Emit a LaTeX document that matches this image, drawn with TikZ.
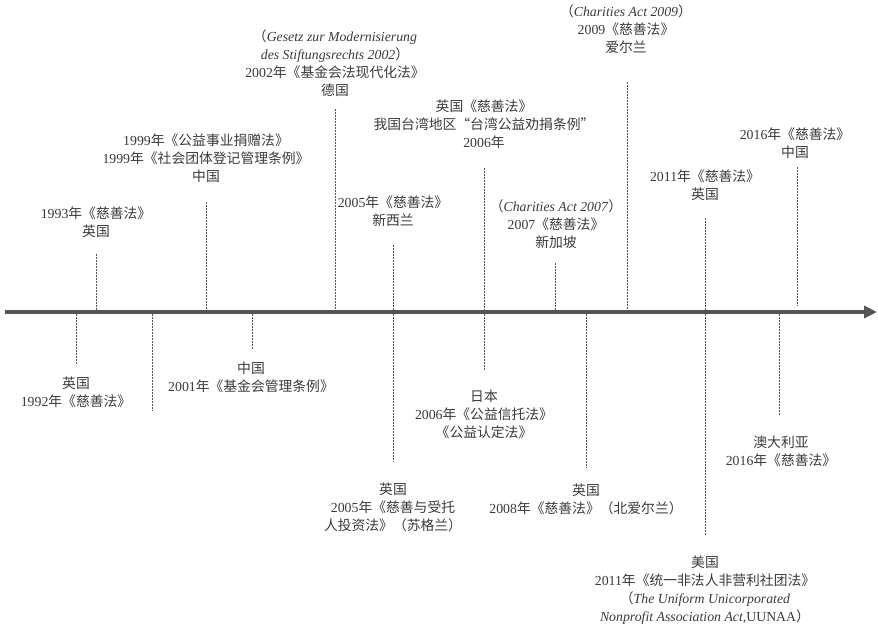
\documentclass[tikz,border=0pt]{standalone}
\usepackage{fontspec}
\setmainfont{Liberation Serif}
\newfontfamily\zhfont{Noto Sans CJK SC}
\newcommand\zc[1]{{\zhfont #1}}
\usetikzlibrary{arrows.meta}
\definecolor{ink}{HTML}{3A3A3A}
\definecolor{axisgray}{HTML}{555555}
\begin{document}
\begin{tikzpicture}[x=1pt,y=-1pt,
  lbl/.style={text=ink, align=center, inner sep=0pt, font=\fontsize{13.8}{18}\selectfont},
  dline/.style={draw=axisgray, line width=1pt, dash pattern=on 2pt off 1pt},
  axisline/.style={line width=3.5pt, draw=axisgray, -{Triangle[length=13pt,width=12pt]}}]
\useasboundingbox (0,0) rectangle (878,627);
% axis
\coordinate (axL) at (5,312);
\coordinate (axR) at (877,312);
\draw[axisline] (axL) -- (axR);

% labels above
\node[lbl] (n1993) at (96,222) {1993\zc{年《慈善法》}\\\zc{英国}};
\node[lbl] (n1999) at (206,158.5) {1999\zc{年《公益事业捐赠法》}\\1999\zc{年《社会团体登记管理条例》}\\\zc{中国}};
\node[lbl] (n2002) at (335,63) {\zc{（}\textit{Gesetz zur Modernisierung}\\\textit{des Stiftungsrechts 2002}\zc{）}\\2002\zc{年《基金会法现代化法》}\\\zc{德国}};
\node[lbl] (n2006t) at (484,124) {\zc{英国《慈善法》}\\\zc{我国台湾地区“台湾公益劝捐条例”}\\2006\zc{年}};
\node[lbl] (n2005nz) at (393,211.5) {2005\zc{年《慈善法》}\\\zc{新西兰}};
\node[lbl] (n2007) at (556,224) {\zc{（}\textit{Charities Act 2007}\zc{）}\\2007\zc{《慈善法》}\\\zc{新加坡}};
\node[lbl] (n2009) at (626,29.5) {\zc{（}\textit{Charities Act 2009}\zc{）}\\2009\zc{《慈善法》}\\\zc{爱尔兰}};
\node[lbl] (n2011uk) at (705,185) {2011\zc{年《慈善法》}\\\zc{英国}};
\node[lbl] (n2016cn) at (795,143) {2016\zc{年《慈善法》}\\\zc{中国}};

% labels below
\node[lbl] (n1992) at (76,392) {\zc{英国}\\1992\zc{年《慈善法》}};
\node[lbl] (n2001) at (251,377.5) {\zc{中国}\\2001\zc{年《基金会管理条例》}};
\node[lbl] (n2006jp) at (484,414) {\zc{日本}\\2006\zc{年《公益信托法》}\\\zc{《公益认定法》}};
\node[lbl] (n2005uk) at (393,507.5) {\zc{英国}\\2005\zc{年《慈善与受托}\\\zc{人投资法》（苏格兰）}};
\node[lbl] (n2008) at (586,499) {\zc{英国}\\2008\zc{年《慈善法》（北爱尔兰）}};
\node[lbl] (n2016au) at (781,451) {\zc{澳大利亚}\\2016\zc{年《慈善法》}};
\node[lbl] (n2011us) at (705,590) {\zc{美国}\\2011\zc{年《统一非法人非营利社团法》}\\\zc{（}\textit{The Uniform Unicorporated}\\\textit{Nonprofit Association Act,}UUNAA\zc{）}};

% dashed lines above the axis
\coordinate (a1t) at (96,254);   \coordinate (a1b) at (96,310);
\coordinate (a2t) at (206,202);  \coordinate (a2b) at (206,310);
\coordinate (a3t) at (335,109);  \coordinate (a3b) at (335,310);
\coordinate (a4t) at (393,245);  \coordinate (a4b) at (393,310);
\coordinate (a5t) at (484,168);  \coordinate (a5b) at (484,310);
\coordinate (a6t) at (555,263);  \coordinate (a6b) at (555,310);
\coordinate (a7t) at (627,82);   \coordinate (a7b) at (627,310);
\coordinate (a8t) at (705,218);  \coordinate (a8b) at (705,310);
\coordinate (a9t) at (797,167);  \coordinate (a9b) at (797,306);
\foreach \i in {1,...,9} {\draw[dline] (a\i t) -- (a\i b);}

% dashed lines below the axis
\coordinate (b1t) at (76,314);   \coordinate (b1b) at (76,365);
\coordinate (b2t) at (152,314);  \coordinate (b2b) at (152,411);
\coordinate (b3t) at (252,314);  \coordinate (b3b) at (252,350);
\coordinate (b4t) at (393,314);  \coordinate (b4b) at (393,462);
\coordinate (b5t) at (484,314);  \coordinate (b5b) at (484,370);
\coordinate (b6t) at (586,314);  \coordinate (b6b) at (586,468);
\coordinate (b7t) at (705,314);  \coordinate (b7b) at (705,535);
\coordinate (b8t) at (779,314);  \coordinate (b8b) at (779,416);
\foreach \i in {1,...,8} {\draw[dline] (b\i t) -- (b\i b);}
\end{tikzpicture}
\end{document}
